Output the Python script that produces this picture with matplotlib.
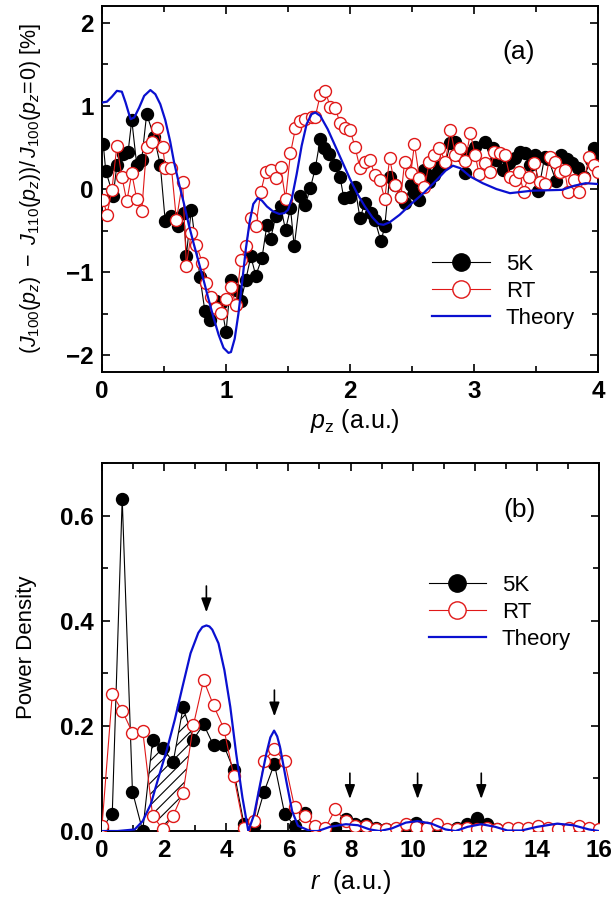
import numpy as np
import matplotlib
matplotlib.use('Agg')
import matplotlib.pyplot as plt
from matplotlib.ticker import MultipleLocator

plt.rcParams['font.family'] = ['Liberation Sans', 'DejaVu Sans']
plt.rcParams['mathtext.fontset'] = 'custom'
plt.rcParams['mathtext.rm'] = 'Liberation Sans'
plt.rcParams['mathtext.it'] = 'Liberation Sans:italic'
plt.rcParams['mathtext.bf'] = 'Liberation Sans:bold'
plt.rcParams['hatch.linewidth'] = 0.8

BLACK = 'black'
RED = '#e01818'
BLUE = '#0a10d0'

# ---- panel (a): anisotropy of Compton profiles ----
pz_5k = [0.01, 0.03, 0.09, 0.12, 0.17, 0.21, 0.24, 0.28, 0.32, 0.36, 0.42, 0.47, 0.51, 0.56,
         0.61, 0.66, 0.68, 0.72, 0.79, 0.83, 0.87, 0.92, 0.96, 1.00, 1.04, 1.08, 1.12, 1.16,
         1.20, 1.24, 1.29, 1.33, 1.36, 1.40, 1.44, 1.48, 1.52, 1.55, 1.60, 1.64, 1.68, 1.72,
         1.76, 1.79, 1.83, 1.88, 1.92, 1.95, 2.00, 2.04, 2.08, 2.12, 2.17, 2.20, 2.25, 2.28,
         2.32, 2.36, 2.41, 2.44, 2.49, 2.52, 2.56, 2.60, 2.64, 2.68, 2.72, 2.77, 2.81, 2.85,
         2.89, 2.93, 2.97, 3.01, 3.09, 3.15, 3.18, 3.23, 3.28, 3.33, 3.37, 3.41, 3.45, 3.49,
         3.52, 3.57, 3.60, 3.66, 3.70, 3.75, 3.79, 3.84, 3.89, 3.94, 3.97, 4.00]
d_5k = [0.54, 0.22, -0.08, 0.29, 0.42, 0.44, 0.83, 0.29, 0.35, 0.90, 0.63, 0.29, -0.39, -0.32,
        -0.45, -0.29, -0.80, -0.25, -1.06, -1.47, -1.57, -1.35, -1.37, -1.72, -1.09, -1.21, -1.35, -1.09,
        -0.81, -1.04, -0.83, -0.43, -0.60, -0.33, -0.21, -0.49, -0.23, -0.69, -0.08, -0.19, 0.01, 0.25,
        0.60, 0.49, 0.42, 0.29, 0.14, -0.11, -0.09, 0.03, -0.35, -0.17, -0.29, -0.37, -0.63, -0.45,
        0.15, 0.05, -0.09, -0.17, 0.05, -0.05, -0.13, 0.23, 0.08, 0.17, 0.27, 0.31, 0.55, 0.56,
        0.41, 0.19, 0.43, 0.51, 0.57, 0.49, 0.35, 0.23, 0.31, 0.37, 0.45, 0.43, 0.29, 0.41,
        -0.02, 0.39, 0.36, 0.10, 0.41, 0.36, 0.31, 0.25, 0.15, 0.35, 0.49, 0.47]

pz_rt = [0.01, 0.04, 0.08, 0.12, 0.16, 0.20, 0.24, 0.28, 0.32, 0.36, 0.40, 0.44, 0.49, 0.51,
         0.56, 0.60, 0.65, 0.68, 0.72, 0.76, 0.81, 0.84, 0.88, 0.92, 0.96, 1.00, 1.04, 1.08,
         1.12, 1.16, 1.20, 1.24, 1.28, 1.32, 1.36, 1.40, 1.44, 1.48, 1.52, 1.56, 1.60, 1.64,
         1.69, 1.72, 1.76, 1.80, 1.84, 1.88, 1.92, 1.96, 2.00, 2.04, 2.08, 2.12, 2.16, 2.20,
         2.24, 2.28, 2.32, 2.36, 2.41, 2.44, 2.49, 2.52, 2.56, 2.60, 2.64, 2.68, 2.72, 2.77,
         2.81, 2.85, 2.89, 2.93, 2.97, 3.01, 3.04, 3.09, 3.13, 3.16, 3.21, 3.25, 3.29, 3.33,
         3.36, 3.40, 3.44, 3.48, 3.53, 3.57, 3.61, 3.65, 3.69, 3.73, 3.76, 3.81, 3.85, 3.89,
         3.93, 3.97, 4.00]
d_rt = [-0.13, -0.31, -0.01, 0.52, 0.15, -0.15, 0.19, -0.12, -0.27, 0.51, 0.57, 0.73, 0.51, 0.25,
        0.25, -0.37, 0.09, -0.92, -0.53, -0.67, -0.89, -1.13, -1.30, -1.43, -1.49, -1.32, -1.18, -1.40,
        -0.85, -0.69, -0.35, -0.45, -0.04, 0.21, 0.23, 0.13, 0.27, -0.12, 0.43, 0.73, 0.82, 0.84,
        0.86, 0.87, 1.13, 1.18, 0.99, 0.98, 0.79, 0.73, 0.71, 0.51, 0.25, 0.32, 0.35, 0.17,
        0.11, -0.12, 0.37, 0.05, -0.09, 0.32, 0.19, 0.54, 0.13, 0.02, 0.33, 0.41, 0.49, 0.33,
        0.71, 0.41, 0.49, 0.34, 0.67, 0.41, 0.18, 0.31, 0.21, 0.44, 0.43, 0.41, 0.14, 0.11,
        0.21, -0.03, 0.15, 0.31, 0.08, 0.06, 0.39, 0.33, 0.20, 0.23, -0.03, 0.11, -0.04, 0.13,
        0.39, 0.29, 0.21]

pz_th = [0.00, 0.04, 0.08, 0.12, 0.16, 0.19, 0.23, 0.26, 0.30, 0.34, 0.39, 0.43, 0.47, 0.51,
         0.55, 0.58, 0.62, 0.66, 0.70, 0.74, 0.78, 0.82, 0.86, 0.90, 0.94, 0.98, 1.02, 1.04,
         1.07, 1.10, 1.13, 1.16, 1.19, 1.22, 1.255, 1.29, 1.33, 1.38, 1.43, 1.47, 1.50, 1.53,
         1.57, 1.61, 1.65, 1.69, 1.72, 1.76, 1.82, 1.88, 1.94, 2.00, 2.06, 2.12, 2.18, 2.23,
         2.27, 2.32, 2.40, 2.50, 2.60, 2.70, 2.77, 2.83, 2.89, 2.97, 3.07, 3.18, 3.29, 3.47,
         3.71, 3.81, 3.90, 4.00]
d_th = [1.04, 1.05, 1.11, 1.18, 1.17, 1.04, 0.84, 0.86, 0.98, 1.12, 1.19, 1.14, 1.02, 0.83,
        0.57, 0.33, 0.07, -0.17, -0.43, -0.66, -0.88, -1.10, -1.33, -1.55, -1.75, -1.91, -1.97, -1.96,
        -1.80, -1.50, -1.12, -0.72, -0.40, -0.18, -0.11, -0.14, -0.21, -0.27, -0.30, -0.29, -0.25, -0.12,
        0.18, 0.52, 0.78, 0.90, 0.92, 0.88, 0.72, 0.52, 0.32, 0.12, -0.06, -0.21, -0.34, -0.42,
        -0.43, -0.40, -0.31, -0.17, -0.04, 0.11, 0.22, 0.28, 0.25, 0.15, 0.07, 0.00, -0.05, -0.02,
        -0.01, 0.04, 0.07, 0.06]

# ---- panel (b): power density ----
r = [0.00, 0.33, 0.65, 0.98, 1.31, 1.63, 1.96, 2.29, 2.61, 2.94, 3.27, 3.59, 3.92, 4.24,
     4.57, 4.90, 5.22, 5.55, 5.88, 6.20, 6.53, 6.86, 7.18, 7.51, 7.84, 8.16, 8.49, 8.82,
     9.14, 9.47, 9.80, 10.12, 10.45, 10.78, 11.10, 11.43, 11.76, 12.08, 12.41, 12.73, 13.06,
     13.39, 13.71, 14.04, 14.37, 14.69, 15.02, 15.35, 15.67, 16.00]
pd_5k = [0.005, 0.033, 0.632, 0.075, 0.000, 0.174, 0.158, 0.131, 0.235, 0.174, 0.203, 0.163, 0.163, 0.116,
         0.013, 0.010, 0.075, 0.128, 0.033, 0.010, 0.035, 0.005, 0.002, 0.005, 0.022, 0.014, 0.014, 0.006,
         0.003, 0.002, 0.004, 0.016, 0.005, 0.005, 0.002, 0.005, 0.013, 0.024, 0.013, 0.003, 0.002,
         0.002, 0.001, 0.002, 0.002, 0.001, 0.002, 0.002, 0.001, 0.001]
pd_rt = [0.010, 0.260, 0.229, 0.187, 0.191, 0.029, 0.003, 0.029, 0.073, 0.201, 0.287, 0.239, 0.195, 0.105,
         0.006, 0.019, 0.134, 0.156, 0.133, 0.045, 0.029, 0.010, 0.005, 0.041, 0.019, 0.010, 0.010, 0.003,
         0.003, 0.006, 0.013, 0.008, 0.006, 0.013, 0.003, 0.003, 0.005, 0.003, 0.005, 0.003, 0.005,
         0.005, 0.005, 0.010, 0.005, 0.003, 0.005, 0.010, 0.005, 0.003]

r_th = [0.00, 0.50, 1.05, 1.31, 1.57, 1.82, 2.08, 2.34, 2.59, 2.85, 3.10, 3.23, 3.36, 3.46, 3.55,
        3.75, 3.94, 4.13, 4.32, 4.52, 4.71, 4.90, 5.09, 5.29, 5.42, 5.54, 5.64, 5.73, 5.93, 6.12,
        6.31, 6.70, 6.95, 7.34, 7.85, 8.24, 8.62, 8.94, 9.33, 9.78, 10.16, 10.61, 11.06, 11.38,
        11.77, 12.21, 12.66, 13.05, 13.50, 14.01, 14.65, 15.17, 15.68, 16.00]
pd_th = [0.000, 0.000, 0.003, 0.019, 0.051, 0.102, 0.153, 0.211, 0.274, 0.338, 0.377, 0.388, 0.391, 0.389,
         0.383, 0.357, 0.306, 0.236, 0.147, 0.064, 0.000, 0.032, 0.089, 0.147, 0.178, 0.191, 0.180,
         0.160, 0.096, 0.038, 0.010, 0.000, 0.000, 0.008, 0.013, 0.011, 0.003, 0.000, 0.005, 0.016,
         0.019, 0.014, 0.003, 0.000, 0.008, 0.013, 0.008, 0.001, 0.001, 0.008, 0.014, 0.011, 0.003, 0.000]

arrow_r = [3.36, 5.55, 7.98, 10.16, 12.21]
arrow_top = [0.466, 0.268, 0.110, 0.110, 0.110]
arrow_tip = [0.416, 0.218, 0.061, 0.061, 0.061]

fig = plt.figure(figsize=(6.16, 8.99), dpi=100)
ax1 = fig.add_axes([0.1656, 0.5862, 0.8052, 0.4071])
ax2 = fig.add_axes([0.1656, 0.0756, 0.8068, 0.4094])


def draw_series(ax, x5, y5, xr, yr, xt, yt):
    ax.plot(x5, y5, '-o', color=BLACK, lw=0.8, ms=8.6, mfc=BLACK, mec=BLACK,
            label='5K', zorder=2)
    ax.plot(xr, yr, '-o', color=RED, lw=0.8, ms=8.6, mfc='white', mec=RED, mew=1.0,
            label='RT', zorder=3)
    ax.plot(xt, yt, '-', color=BLUE, lw=1.6, label='Theory', zorder=4)


def style_axes(ax):
    for s in ax.spines.values():
        s.set_linewidth(1.4)
    ax.tick_params(which='both', direction='in', top=True, right=True, width=1.2,
                   labelsize=17.5, pad=6)
    ax.tick_params(which='major', length=6)
    ax.tick_params(which='minor', length=4)
    for lab in ax.get_xticklabels() + ax.get_yticklabels():
        lab.set_fontweight('bold')


draw_series(ax1, pz_5k, d_5k, pz_rt, d_rt, pz_th, d_th)
ax1.set_xlim(0, 4)
ax1.set_ylim(-2.2, 2.2)
ax1.xaxis.set_major_locator(MultipleLocator(1))
ax1.xaxis.set_minor_locator(MultipleLocator(0.5))
ax1.yaxis.set_major_locator(MultipleLocator(1))
ax1.yaxis.set_minor_locator(MultipleLocator(0.5))
style_axes(ax1)
ax1.set_ylabel(r'$(J_{100}(p_z)\ -\ J_{110}(p_z))/\,J_{100}(p_z\!=\!0)$ [%]', fontsize=15.5)
ax1.yaxis.set_label_coords(-0.118, 0.5)
ax1.set_xlabel(r'$p_{\mathrm{z}}$ (a.u.)', fontsize=18)
ax1.xaxis.set_label_coords(0.51, -0.095)
ax1.text(0.84, 0.874, '(a)', transform=ax1.transAxes, fontsize=19, ha='center', va='center')
ax1.legend(loc='upper left', bbox_to_anchor=(0.666, 0.322), frameon=False, fontsize=16,
           handlelength=2.6, handletextpad=0.7, labelspacing=0.27, borderpad=0,
           borderaxespad=0, markerscale=1.45)

draw_series(ax2, r, pd_5k, r, pd_rt, r_th, pd_th)
rr = np.array(r)
ax2.fill_between(rr, pd_rt, pd_5k, where=(rr >= 1.6) & (rr <= 2.95), interpolate=True,
                 facecolor='none', edgecolor=BLACK, hatch='///', linewidth=0, zorder=1)
for xa, ya, yb in zip(arrow_r, arrow_top, arrow_tip):
    ax2.annotate('', xy=(xa, yb), xytext=(xa, ya),
                 arrowprops=dict(arrowstyle='-|>,head_length=0.6,head_width=0.22',
                                 color=BLACK, lw=1.2, shrinkA=0, shrinkB=0,
                                 mutation_scale=14))
ax2.set_xlim(0, 16)
ax2.set_ylim(0, 0.7)
ax2.xaxis.set_major_locator(MultipleLocator(2))
ax2.xaxis.set_minor_locator(MultipleLocator(1))
ax2.yaxis.set_minor_locator(MultipleLocator(0.1))
ax2.set_yticks([0.0, 0.2, 0.4, 0.6])
ax2.set_yticklabels(['0.0', '0.2', '0.4', '0.6'])
style_axes(ax2)
ax2.set_ylabel('Power Density', fontsize=16)
ax2.yaxis.set_label_coords(-0.131, 0.5)
ax2.set_xlabel(r'$r$  (a.u.)', fontsize=18)
ax2.xaxis.set_label_coords(0.50, -0.10)
ax2.text(0.84, 0.872, '(b)', transform=ax2.transAxes, fontsize=19, ha='center', va='center')
ax2.legend(loc='upper left', bbox_to_anchor=(0.657, 0.696), frameon=False, fontsize=16,
           handlelength=2.6, handletextpad=0.7, labelspacing=0.27, borderpad=0,
           borderaxespad=0, markerscale=1.45)

fig.savefig('out.png', dpi=100)
